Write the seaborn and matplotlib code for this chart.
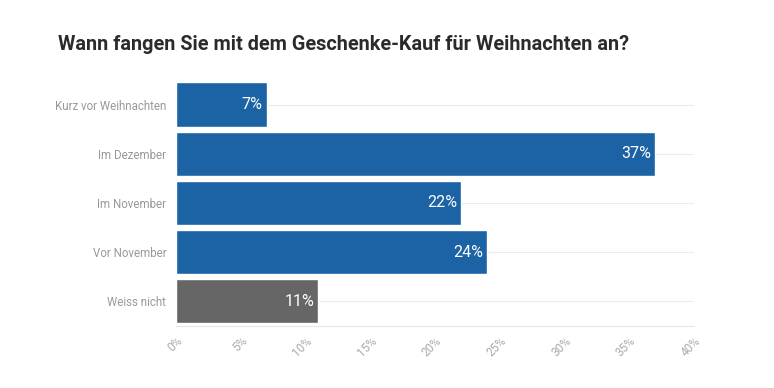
import pandas as pd
import matplotlib.pyplot as plt
import seaborn as sns
from matplotlib.ticker import PercentFormatter

categories = ["Kurz vor Weihnachten", "Im Dezember", "Im November", "Vor November", "Weiss nicht"]
values = [7, 37, 22, 24, 11]
colors = ["#1c63a5", "#1c63a5", "#1c63a5", "#1c63a5", "#666666"]
xticks = [0, 5, 10, 15, 20, 25, 30, 35, 40]

df = pd.DataFrame({"antwort": categories, "anteil": values})

sns.set_style("white")
plt.rcParams["font.family"] = ["Roboto", "DejaVu Sans"]

fig = plt.figure(figsize=(7.74, 3.88), dpi=100)
ax = fig.add_axes([0.2274, 0.160, 0.6692, 0.634])

sns.barplot(data=df, y="antwort", x="anteil", hue="antwort", palette=colors,
            legend=False, width=0.9, saturation=1, ax=ax, zorder=3)

ax.set_xlim(0, 40)
ax.set_ylim(4.5, -0.5)
ax.set_xticks(xticks)
ax.xaxis.set_major_formatter(PercentFormatter(decimals=0))
ax.set_xlabel("")
ax.set_ylabel("")

for i, v in enumerate(values):
    ax.text(v - 0.3, i, f"{v}%", ha="right", va="center", color="white",
            fontsize=11.5, zorder=4)

for i in range(len(categories)):
    ax.axhline(i, color="#ebebeb", lw=0.8, zorder=1)

for s in ["top", "right", "left"]:
    ax.spines[s].set_visible(False)
ax.spines["bottom"].set_color("#e6e6e6")
ax.tick_params(axis="y", length=4, color="#e6e6e6", labelsize=8.3, labelcolor="#999999", pad=3)
ax.tick_params(axis="x", length=4, color="#e6e6e6", labelsize=8.5, labelcolor="#aaaaaa", pad=2)
for lab in ax.get_xticklabels():
    lab.set_rotation(45)
    lab.set_ha("right")
    lab.set_rotation_mode("anchor")

fig.text(58 / 774, 1 - 45 / 388, "Wann fangen Sie mit dem Geschenke-Kauf für Weihnachten an?",
         fontsize=14.3, fontweight="bold", color="#2b2b2b", va="center", ha="left")

fig.savefig("out.png", dpi=100)
